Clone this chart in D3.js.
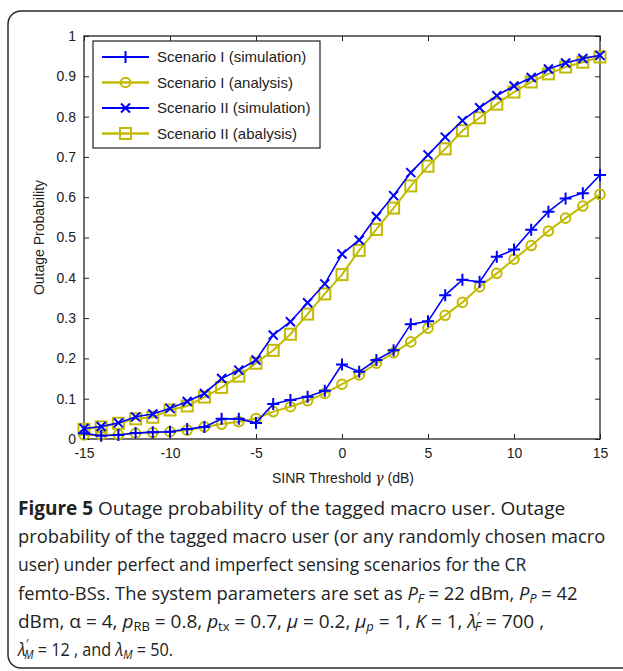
<!DOCTYPE html>
<html>
<head>
<meta charset="utf-8">
<script src="https://cdn.jsdelivr.net/npm/d3@7"></script>
<style>
  body { margin: 0; background: #fff; }
  svg { display: block; }
  .tick text { font-family: "Liberation Sans", Arial, sans-serif; }
</style>
</head>
<body>
<div id="chart"></div>
<script>
// ---- data ----
var thresholds = d3.range(-15, 16); // SINR threshold (dB)
var s1Sim = [0.014, 0.008, 0.010, 0.015, 0.017, 0.018, 0.025, 0.030, 0.050, 0.050, 0.040,
  0.087, 0.097, 0.105, 0.120, 0.185, 0.167, 0.196, 0.220, 0.285, 0.292,
  0.357, 0.395, 0.390, 0.452, 0.470, 0.519, 0.564, 0.597, 0.610, 0.655];
var s1Ana = [0.010, 0.010, 0.011, 0.014, 0.016, 0.018, 0.022, 0.030, 0.037, 0.043, 0.051,
  0.068, 0.080, 0.095, 0.113, 0.136, 0.159, 0.188, 0.214, 0.241, 0.275,
  0.307, 0.339, 0.378, 0.411, 0.446, 0.480, 0.516, 0.548, 0.578, 0.607];
var s2Sim = [0.026, 0.031, 0.040, 0.055, 0.062, 0.076, 0.093, 0.113, 0.150, 0.171, 0.196,
  0.258, 0.291, 0.338, 0.385, 0.459, 0.494, 0.552, 0.604, 0.661, 0.705,
  0.749, 0.790, 0.822, 0.852, 0.876, 0.897, 0.918, 0.933, 0.944, 0.952];
var s2Ana = [0.024, 0.030, 0.039, 0.050, 0.054, 0.072, 0.082, 0.104, 0.128, 0.156, 0.188,
  0.220, 0.260, 0.310, 0.360, 0.408, 0.468, 0.520, 0.573, 0.628, 0.677,
  0.720, 0.765, 0.797, 0.831, 0.861, 0.886, 0.906, 0.923, 0.935, 0.948];
var seriesNames = ["Scenario I (simulation)", "Scenario I (analysis)",
  "Scenario II (simulation)", "Scenario II (abalysis)"];
var xTicks = [-15, -10, -5, 0, 5, 10, 15];
var yTicks = [0, 0.1, 0.2, 0.3, 0.4, 0.5, 0.6, 0.7, 0.8, 0.9, 1];

var blue = "#0000ff", olive = "#c2ba00";
var series = [
  { name: seriesNames[0], values: s1Sim, color: blue, marker: "plus", lw: 1.6 },
  { name: seriesNames[1], values: s1Ana, color: olive, marker: "circle", lw: 2 },
  { name: seriesNames[2], values: s2Sim, color: blue, marker: "cross", lw: 1.6 },
  { name: seriesNames[3], values: s2Ana, color: olive, marker: "square", lw: 2 }
];

var W = 623, H = 671;
var L = 84, R = 600, T = 36, B = 439;

var svg = d3.select("#chart").append("svg")
  .attr("width", W).attr("height", H);

// outer rounded frame
svg.append("rect").attr("x", 8).attr("y", 11)
  .attr("width", 640).attr("height", 657).attr("rx", 13)
  .attr("fill", "none").attr("stroke", "#2a2a2a").attr("stroke-width", 1.5);

var x = d3.scaleLinear().domain([-15, 15]).range([L, R]);
var y = d3.scaleLinear().domain([0, 1]).range([B, T]);

var g = svg.append("g");

// axes, ticks pointing inward (matlab style)
function fmtY(d) { return d === 0 ? "0" : d === 1 ? "1" : d3.format(".1f")(d); }
function fmtX(d) { return String(d); } // plain hyphen like the figure
var ax = g.append("g").attr("transform", "translate(0," + B + ")")
  .call(d3.axisBottom(x).tickValues(xTicks).tickSizeInner(-5).tickSizeOuter(0).tickPadding(9).tickFormat(fmtX));
var axTop = g.append("g").attr("transform", "translate(0," + T + ")")
  .call(d3.axisTop(x).tickValues(xTicks).tickSizeInner(-5).tickSizeOuter(0).tickFormat(""));
var ay = g.append("g").attr("transform", "translate(" + L + ",0)")
  .call(d3.axisLeft(y).tickValues(yTicks).tickSizeInner(-5).tickSizeOuter(0).tickPadding(8).tickFormat(fmtY));
var ayR = g.append("g").attr("transform", "translate(" + R + ",0)")
  .call(d3.axisRight(y).tickValues(yTicks).tickSizeInner(-5).tickSizeOuter(0).tickFormat(""));
[ax, axTop, ay, ayR].forEach(function (a) {
  a.select(".domain").remove();
  a.selectAll("line").attr("stroke", "#222");
  a.selectAll("text").attr("font-size", 14).attr("fill", "#222");
});
g.append("rect").attr("x", L).attr("y", T).attr("width", R - L).attr("height", B - T)
  .attr("fill", "none").attr("stroke", "#222").attr("stroke-width", 1.3);

// marker drawing
function drawMarker(sel, type, color) {
  if (type === "plus") {
    sel.append("path").attr("d", "M-6,0H6M0,-6V6");
  } else if (type === "cross") {
    sel.append("path").attr("d", "M-4.5,-4.5L4.5,4.5M-4.5,4.5L4.5,-4.5");
  } else if (type === "circle") {
    sel.append("circle").attr("r", 4.8);
  } else if (type === "square") {
    sel.append("rect").attr("x", -5.5).attr("y", -5.5).attr("width", 11).attr("height", 11);
  }
  sel.selectAll("path,circle,rect").attr("fill", "none").attr("stroke", color).attr("stroke-width", 2);
}

var line = d3.line()
  .x(function (d, i) { return x(thresholds[i]); })
  .y(function (d) { return y(d); });

// draw analysis under simulation, like the figure
[1, 3, 0, 2].forEach(function (k) {
  var s = series[k];
  var sg = g.append("g");
  sg.append("path").attr("d", line(s.values))
    .attr("fill", "none").attr("stroke", s.color).attr("stroke-width", s.lw);
  sg.selectAll(".m").data(s.values).enter().append("g").attr("class", "m")
    .attr("transform", function (d, i) { return "translate(" + x(thresholds[i]) + "," + y(d) + ")"; })
    .each(function () { drawMarker(d3.select(this), s.marker, s.color); });
});

// legend
var lg = svg.append("g");
lg.append("rect").attr("x", 93).attr("y", 41).attr("width", 227).attr("height", 107)
  .attr("fill", "#fff").attr("stroke", "#222").attr("stroke-width", 1.2);
series.forEach(function (s, i) {
  var yy = 57 + i * 25.5;
  lg.append("line").attr("x1", 102).attr("x2", 149).attr("y1", yy).attr("y2", yy)
    .attr("stroke", s.color).attr("stroke-width", s.lw + 0.4);
  var mg = lg.append("g").attr("transform", "translate(125.5," + yy + ")");
  drawMarker(mg, s.marker, s.color);
  lg.append("text").attr("x", 157).attr("y", yy + 5)
    .attr("font-family", "Liberation Sans, Arial, sans-serif").attr("font-size", 15)
    .attr("fill", "#222").text(s.name);
});

// axis labels
var xl = svg.append("text").attr("x", 343).attr("y", 483).attr("text-anchor", "middle")
  .attr("font-family", "Liberation Sans, Arial, sans-serif").attr("font-size", 14).attr("fill", "#222");
xl.append("tspan").text("SINR Threshold ");
xl.append("tspan").attr("font-style", "italic").attr("font-family", "DejaVu Serif, serif").text("γ");
xl.append("tspan").text(" (dB)");

svg.append("text").attr("transform", "translate(44," + ((T + B) / 2) + ") rotate(-90)")
  .attr("text-anchor", "middle")
  .attr("font-family", "Liberation Sans, Arial, sans-serif").attr("font-size", 14).attr("fill", "#222")
  .text("Outage Probability");

// caption
var capFont = "Open Sans, Noto Sans, sans-serif";
var capLines = [
  [{ t: "Figure 5", b: true }, { t: " Outage probability of the tagged macro user. Outage" }],
  [{ t: "probability of the tagged macro user (or any randomly chosen macro" }],
  [{ t: "user) under perfect and imperfect sensing scenarios for the CR" }],
  [{ t: "femto-BSs. The system parameters are set as " }, { t: "P", i: true }, { t: "F", i: true, sub: true },
   { t: " = 22 dBm, " }, { t: "P", i: true }, { t: "P", i: true, sub: true }, { t: " = 42" }],
  [{ t: "dBm, α = 4, " }, { t: "p", i: true }, { t: "RB", sub: true }, { t: " = 0.8, " },
   { t: "p", i: true }, { t: "tx", sub: true }, { t: " = 0.7, " }, { t: "μ", i: true }, { t: " = 0.2, " },
   { t: "μ", i: true }, { t: "p", i: true, sub: true }, { t: " = 1, " }, { t: "K", i: true }, { t: " = 1, " },
   { t: "λ", i: true }, { t: "′", sup: true }, { t: "F", i: true, sub: true, back: true }, { t: " = 700 ," }],
  [{ t: "λ", i: true }, { t: "′", sup: true }, { t: "M", i: true, sub: true, back: true }, { t: " = 12 , and " },
   { t: "λ", i: true }, { t: "M", i: true, sub: true }, { t: " = 50." }]
];
// widths of each caption line in the figure (the font there is narrower)
var capWidths = [574, 588, 509, 560, 531, 157];
capLines.forEach(function (parts, li) {
  var ly = 515 + li * 28.2;
  var tx = svg.append("text").attr("x", 0).attr("y", 0)
    .attr("font-family", capFont).attr("font-size", 19).attr("fill", "#222");
  parts.forEach(function (p) {
    var ts = tx.append("tspan").text(p.t);
    if (p.b) ts.attr("font-weight", "bold");
    if (p.i) ts.attr("font-style", "italic");
    if (p.sub) { ts.attr("font-size", 13).attr("baseline-shift", "-25%"); }
    if (p.sup) { ts.attr("font-size", 13).attr("baseline-shift", "55%"); }
    if (p.back) ts.attr("dx", -5);
  });
  var w = tx.node().getBBox().width;
  var sx = Math.min(1, capWidths[li] / w);
  tx.attr("transform", "translate(18," + ly + ") scale(" + sx + ",1)");
});
</script>
</body>
</html>
